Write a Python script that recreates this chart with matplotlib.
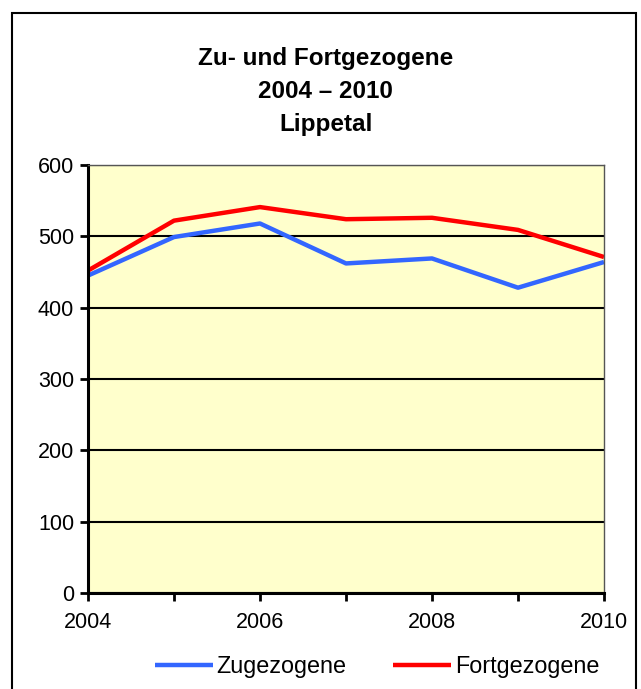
import matplotlib
matplotlib.use('Agg')
import matplotlib.pyplot as plt
from matplotlib.patches import Rectangle

plt.rcParams['font.family'] = ['Liberation Sans', 'DejaVu Sans']

years = [2004, 2005, 2006, 2007, 2008, 2009, 2010]
zugezogene = [445, 499, 518, 462, 469, 428, 464]
fortgezogene = [452, 522, 541, 524, 526, 509, 471]

fig = plt.figure(figsize=(6.41, 6.89), dpi=100)
ax = fig.add_axes([88/641, 96/689, 516/641, 428/689])
ax.set_facecolor('#FFFFCC')

ax.plot(years, zugezogene, color='#3366FF', lw=3.2, label='Zugezogene', solid_capstyle='butt')
ax.plot(years, fortgezogene, color='#FF0000', lw=3.2, label='Fortgezogene', solid_capstyle='butt')

ax.set_xlim(2004, 2010)
ax.set_ylim(0, 600)
ax.set_yticks(range(0, 601, 100))
ax.set_xticks(years)
ax.set_xticklabels([str(y) if y % 2 == 0 else '' for y in years])
ax.yaxis.grid(True, color='black', lw=1.5)
ax.set_axisbelow(True)
for s in ['top', 'right']:
    ax.spines[s].set_color('#555555')
    ax.spines[s].set_linewidth(1.0)
for s in ['left', 'bottom']:
    ax.spines[s].set_linewidth(2.2)
ax.tick_params(axis='both', direction='out', length=6, width=2, labelsize=15.5, pad=4)
ax.tick_params(axis='x', pad=8)

fig.text(0.508, 0.867, 'Zu- und Fortgezogene\n2004 – 2010\nLippetal', ha='center', va='center',
         fontsize=17.5, fontweight='bold', linespacing=1.56)

fig.legend(loc='center', bbox_to_anchor=(0.588, 0.032), ncol=2, frameon=False, fontsize=16.8,
           handlelength=2.5, handletextpad=0.15, columnspacing=2.0)

fig.patches.append(Rectangle((12/641, -0.05), 624/641, (689-13)/689 + 0.05, transform=fig.transFigure,
                             fill=False, edgecolor='black', lw=1.5))

fig.savefig('out.png', dpi=100)
